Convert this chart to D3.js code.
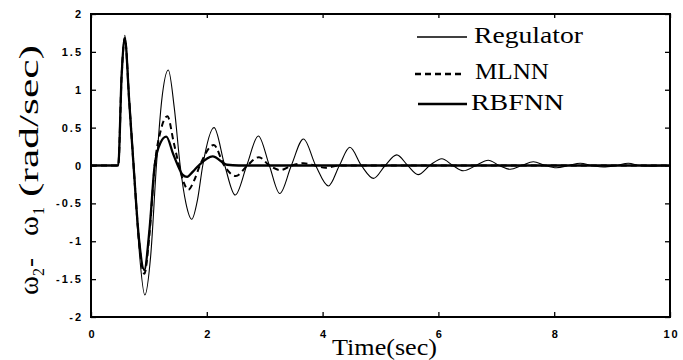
<!DOCTYPE html>
<html>
<head>
<meta charset="utf-8">
<script src="https://cdn.jsdelivr.net/npm/d3@7"></script>
<style>
  body { margin: 0; background: #fff; }
  svg { display: block; }
</style>
</head>
<body>
<svg id="chart" width="683" height="360"></svg>
<script>
// values: [time (sec), w2 - w1 (rad/sec)]
const regulator = [
  [0, 0], [0.47, 0], [0.53, 1.26], [0.585, 1.72], [0.66, 0.9], [0.74, 0], [0.83, -1.1], [0.93, -1.71],
  [1.03, -1.2], [1.13, 0], [1.22, 0.85], [1.335, 1.26], [1.44, 0.75], [1.54, 0], [1.64, -0.5], [1.74, -0.71],
  [1.84, -0.45], [1.93, 0], [2.125, 0.5], [2.31, 0], [2.49, -0.39], [2.69, 0], [2.89, 0.39], [3.08, 0],
  [3.26, -0.37], [3.46, 0], [3.67, 0.35], [3.88, 0], [4.1, -0.27], [4.29, 0], [4.47, 0.24], [4.67, 0],
  [4.88, -0.17], [5.08, 0], [5.28, 0.14], [5.47, 0], [5.65, -0.12], [5.85, 0], [6.06, 0.09], [6.25, 0],
  [6.43, -0.07], [6.65, 0], [6.86, 0.07], [7.05, 0], [7.24, -0.05], [7.44, 0], [7.64, 0.05], [7.84, 0],
  [8.04, -0.03], [8.25, 0], [8.45, 0.03], [8.65, 0], [8.85, -0.02], [9.07, 0], [9.28, 0.03], [9.47, 0],
  [9.65, -0.01], [10, 0]
];
const mlnn = [
  [0, 0], [0.47, 0], [0.53, 1.2], [0.585, 1.68], [0.66, 0.85], [0.735, 0], [0.83, -1.0], [0.92, -1.43],
  [1.01, -0.9], [1.1, 0], [1.2, 0.45], [1.32, 0.65], [1.43, 0.3], [1.52, 0], [1.6, -0.22], [1.68, -0.32],
  [1.78, -0.2], [1.88, 0], [2.12, 0.27], [2.3, 0], [2.5, -0.14], [2.7, 0], [2.9, 0.11], [3.08, 0],
  [3.27, -0.06], [3.47, 0], [3.67, 0.03], [3.87, 0], [4.05, -0.03], [4.3, 0], [10, 0]
];
const rbfnn = [
  [0, 0], [0.47, 0], [0.53, 1.2], [0.585, 1.68], [0.66, 0.85], [0.735, 0], [0.83, -0.98], [0.92, -1.38],
  [1.01, -0.85], [1.1, 0], [1.2, 0.3], [1.3, 0.38], [1.42, 0.15], [1.5, 0], [1.58, -0.12], [1.66, -0.15],
  [1.76, -0.08], [1.86, 0], [2.1, 0.12], [2.35, 0.01], [2.55, 0], [10, 0]
];
const seriesNames = ["Regulator", "MLNN", "RBFNN"];
const xTicks = [0, 2, 4, 6, 8, 10];
const yTicks = [-2, -1.5, -1, -0.5, 0, 0.5, 1, 1.5, 2];

class ResponseChart {
  constructor(svgId) {
    this.svg = d3.select(svgId);
    // plot box in pixels
    this.left = 91;
    this.right = 670;
    this.top = 14;
    this.bottom = 317;
    this.x = d3.scaleLinear().domain([0, 10]).range([this.left, this.right]);
    this.y = d3.scaleLinear().domain([-2, 2]).range([this.bottom, this.top]);
    this.styles = {
      Regulator: { width: 1.1, dash: null },
      MLNN: { width: 2, dash: "6,4" },
      RBFNN: { width: 2.3, dash: null }
    };
    this.serif = "'Liberation Serif', 'Times New Roman', serif";
  }

  init() {
    this._drawAxes();
    this._drawLines({ Regulator: regulator, MLNN: mlnn, RBFNN: rbfnn });
    this._drawLegend();
    this._drawLabels();
  }

  _drawAxes() {
    const tickFont = g => g.selectAll("text")
      .style("font-family", "'Liberation Sans', Arial, sans-serif")
      .style("font-weight", "bold")
      .style("font-size", "11px")
      .style("letter-spacing", "2px")
      .attr("fill", "#000");

    // bottom and left carry labels, ticks point inward
    this.svg.append("g")
      .attr("transform", `translate(0,${this.bottom})`)
      .call(d3.axisBottom(this.x).tickValues(xTicks).tickSizeInner(-5).tickSizeOuter(0)
        .tickPadding(13).tickFormat(d => String(d)))
      .call(tickFont)
      .call(g => g.selectAll("text").attr("dx", "1"));
    this.svg.append("g")
      .attr("transform", `translate(${this.left},0)`)
      .call(d3.axisLeft(this.y).tickValues(yTicks).tickSizeInner(-5).tickSizeOuter(0)
        .tickPadding(8).tickFormat(d => String(d)))
      .call(tickFont);
    // top and right: ticks only
    this.svg.append("g")
      .attr("transform", `translate(0,${this.top})`)
      .call(d3.axisTop(this.x).tickValues(xTicks).tickSizeInner(-4).tickSizeOuter(0).tickFormat(""));
    this.svg.append("g")
      .attr("transform", `translate(${this.right},0)`)
      .call(d3.axisRight(this.y).tickValues(yTicks).tickSizeInner(-5).tickSizeOuter(0).tickFormat(""));

    this.svg.selectAll(".domain").remove();
    this.svg.selectAll(".tick line").attr("stroke", "#000").attr("stroke-width", 1.3);

    // frame
    this.svg.append("rect")
      .attr("x", this.left)
      .attr("y", this.top)
      .attr("width", this.right - this.left)
      .attr("height", this.bottom - this.top)
      .style("fill", "none")
      .style("stroke", "#000")
      .style("stroke-width", 2);
  }

  _drawLines(drawData) {
    const line = d3.line()
      .x(d => this.x(d[0]))
      .y(d => this.y(d[1]))
      .curve(d3.curveMonotoneX);
    const keys = Object.keys(drawData);
    this.svg.append("g").selectAll("path.series")
      .data(keys)
      .join("path")
      .attr("class", "series")
      .attr("d", k => line(drawData[k]))
      .style("fill", "none")
      .style("stroke", "#000")
      .style("stroke-width", k => this.styles[k].width)
      .style("stroke-dasharray", k => this.styles[k].dash)
      .style("stroke-linejoin", "round");
  }

  _drawLegend() {
    const rows = [
      { y: 43, lineY: 37, x1: 417, x2: 467, tx: 474, len: 109 },
      { y: 79, lineY: 74, x1: 415, x2: 465, tx: 475, len: 74 },
      { y: 110, lineY: 104, x1: 418, x2: 467, tx: 471, len: 93 }
    ];
    const g = this.svg.append("g");
    seriesNames.forEach((name, i) => {
      const r = rows[i];
      g.append("line")
        .attr("x1", r.x1).attr("x2", r.x2)
        .attr("y1", r.lineY).attr("y2", r.lineY)
        .style("stroke", "#000")
        .style("stroke-width", this.styles[name].width + 0.3)
        .style("stroke-dasharray", this.styles[name].dash);
      g.append("text")
        .attr("x", r.tx)
        .attr("y", r.y)
        .attr("textLength", r.len)
        .attr("lengthAdjust", "spacingAndGlyphs")
        .style("font-family", this.serif)
        .style("font-size", "23px")
        .text(name);
    });
  }

  _drawLabels() {
    this.svg.append("text")
      .attr("x", 332)
      .attr("y", 355)
      .attr("textLength", 105)
      .attr("lengthAdjust", "spacingAndGlyphs")
      .style("font-family", this.serif)
      .style("font-size", "24px")
      .text("Time(sec)");

    // y label, laid out piece by piece along the rotated axis (x runs upward from y=298)
    const parts = [
      { t: "ω", x: 3, dy: 0, size: 27, len: 19 },
      { t: "2", x: 22, dy: 6, size: 16, len: 8 },
      { t: "-", x: 31, dy: 0, size: 26, len: 9 },
      { t: "ω", x: 62, dy: 0, size: 27, len: 20 },
      { t: "1", x: 83, dy: 6, size: 16, len: 8 },
      { t: "(rad/sec)", x: 101, dy: 0, size: 27, len: 152 }
    ];
    this.svg.append("g")
      .attr("transform", "translate(38,298) rotate(-90)")
      .selectAll("text")
      .data(parts)
      .join("text")
      .attr("x", d => d.x)
      .attr("y", d => d.dy)
      .attr("textLength", d => d.len)
      .attr("lengthAdjust", "spacingAndGlyphs")
      .style("font-family", this.serif)
      .style("font-size", d => d.size + "px")
      .text(d => d.t);
  }
}

const chart = new ResponseChart("#chart");
chart.init();
</script>
</body>
</html>
